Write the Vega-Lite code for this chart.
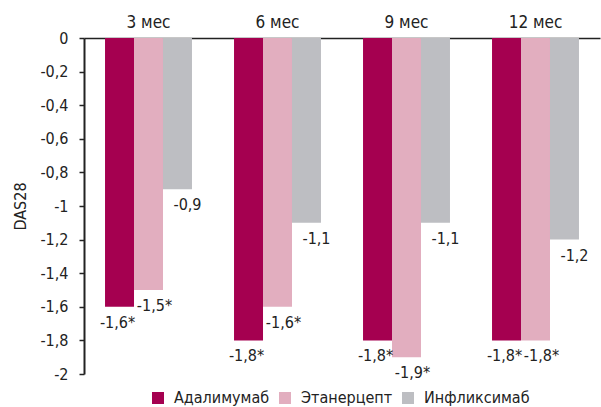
{
  "$schema": "https://vega.github.io/schema/vega-lite/v6.json",
  "width": 516,
  "height": 336,
  "autosize": {"type": "none"},
  "padding": {"left": 84, "top": 38, "right": 1, "bottom": 33},
  "config": {
    "view": {"stroke": null},
    "font": "'Liberation Sans Narrow', 'DejaVu Sans Condensed', 'Roboto Condensed', Roboto, sans-serif",
    "locale": {"number": {"decimal": ",", "thousands": " ", "grouping": [3], "currency": ["", ""], "minus": "-"}}
  },
  "data": {
    "values": [
      {"period": "3 мес", "drug": "Адалимумаб", "value": -1.6, "label": "-1,6*"},
      {"period": "3 мес", "drug": "Этанерцепт", "value": -1.5, "label": "-1,5*"},
      {"period": "3 мес", "drug": "Инфликсимаб", "value": -0.9, "label": "-0,9"},
      {"period": "6 мес", "drug": "Адалимумаб", "value": -1.8, "label": "-1,8*"},
      {"period": "6 мес", "drug": "Этанерцепт", "value": -1.6, "label": "-1,6*"},
      {"period": "6 мес", "drug": "Инфликсимаб", "value": -1.1, "label": "-1,1"},
      {"period": "9 мес", "drug": "Адалимумаб", "value": -1.8, "label": "-1,8*"},
      {"period": "9 мес", "drug": "Этанерцепт", "value": -1.9, "label": "-1,9*"},
      {"period": "9 мес", "drug": "Инфликсимаб", "value": -1.1, "label": "-1,1"},
      {"period": "12 мес", "drug": "Адалимумаб", "value": -1.8, "label": "-1,8*"},
      {"period": "12 мес", "drug": "Этанерцепт", "value": -1.8, "label": "-1,8*"},
      {"period": "12 мес", "drug": "Инфликсимаб", "value": -1.2, "label": "-1,2"}
    ]
  },
  "encoding": {
    "x": {
      "field": "period", "type": "nominal", "sort": ["3 мес", "6 мес", "9 мес", "12 мес"],
      "scale": {"paddingInner": 0.326, "paddingOuter": 0.163},
      "axis": {"orient": "top", "title": null, "labelAngle": 0, "ticks": false, "domainColor": "#222", "domainWidth": 1.5, "labelFontSize": 17, "labelColor": "#222", "labelPadding": 7}
    },
    "xOffset": {"field": "drug", "type": "nominal", "sort": ["Адалимумаб", "Этанерцепт", "Инфликсимаб"]},
    "y": {
      "field": "value", "type": "quantitative",
      "scale": {"domain": [-2, 0], "nice": false},
      "axis": {"title": "DAS28", "titleFontSize": 16, "titleFontWeight": "normal", "titleColor": "#222", "titlePadding": 11,
        "values": [0, -0.2, -0.4, -0.6, -0.8, -1, -1.2, -1.4, -1.6, -1.8, -2],
        "labelExpr": "replace(replace(format(datum.value, '~g'), '.', ','), '\u2212', '-')",
        "grid": false, "domainColor": "#222", "domainWidth": 2, "tickColor": "#222", "tickWidth": 1.5, "tickSize": 5,
        "labelFontSize": 16, "labelColor": "#222", "labelPadding": 11}
    }
  },
  "layer": [
    {
      "mark": {"type": "bar", "width": {"band": 1}},
      "encoding": {
        "color": {
          "field": "drug", "type": "nominal", "sort": ["Адалимумаб", "Этанерцепт", "Инфликсимаб"],
          "scale": {"domain": ["Адалимумаб", "Этанерцепт", "Инфликсимаб"], "range": ["#A50050", "#E2AEBF", "#BDBEC2"]},
          "legend": {"orient": "none", "legendX": 66, "legendY": 352, "padding": 0, "direction": "horizontal", "title": null, "symbolType": "square", "symbolSize": 144, "symbolStrokeWidth": 0, "labelFontSize": 16, "labelColor": "#222", "columnPadding": 7, "labelOffset": 8}
        }
      }
    },
    {
      "transform": [{"filter": "datum.drug == 'Адалимумаб'"}],
      "mark": {"type": "text", "baseline": "middle", "dy": 16, "dx": -2, "fontSize": 16, "color": "#222"},
      "encoding": {"text": {"field": "label"}}
    },
    {
      "transform": [{"filter": "datum.drug == 'Этанерцепт'"}],
      "mark": {"type": "text", "baseline": "middle", "dy": 16, "dx": 6, "fontSize": 16, "color": "#222"},
      "encoding": {"text": {"field": "label"}}
    },
    {
      "transform": [{"filter": "datum.drug == 'Инфликсимаб'"}],
      "mark": {"type": "text", "baseline": "middle", "dy": 16, "dx": 10, "fontSize": 16, "color": "#222"},
      "encoding": {"text": {"field": "label"}}
    }
  ]
}
